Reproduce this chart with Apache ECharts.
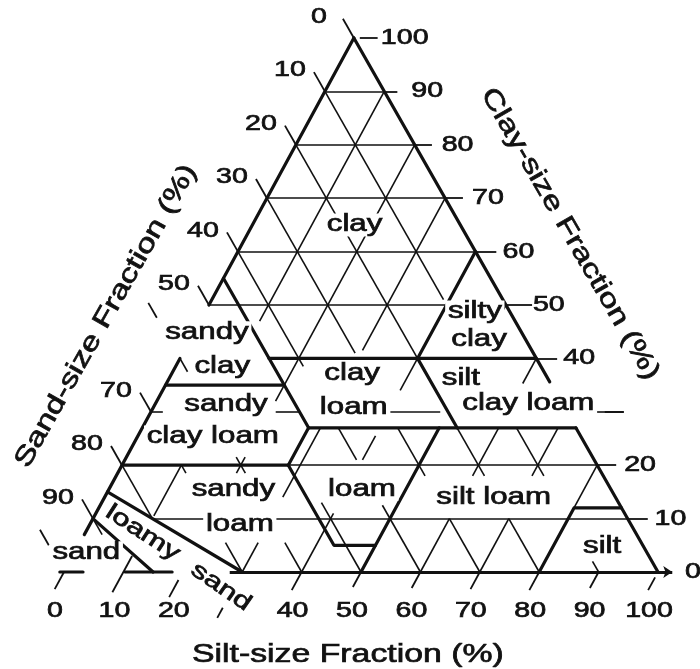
<!DOCTYPE html>
<html>
<head>
<meta charset="utf-8">
<script src="https://cdn.jsdelivr.net/npm/echarts@6/dist/echarts.min.js"></script>
<style>
  html, body { margin: 0; padding: 0; background: #fff; }
  #chart { width: 700px; height: 669px; }
</style>
</head>
<body>
<div id="chart"></div>
<script>
// ---------- axis ticks and labels (percent) ----------
const sandAxisTicks  = [0, 10, 20, 30, 40, 50, 60, 70, 80, 90, 100];
const sandAxisLabels = ['0', '10', '20', '30', '40', '50', '', '70', '80', '90', ''];
const clayAxisTicks  = [100, 90, 80, 70, 60, 50, 40, 30, 20, 10, 0];
const clayAxisLabels = ['100', '90', '80', '70', '60', '50', '40', '', '20', '10', '0'];
const siltAxisTicks  = [0, 10, 20, 30, 40, 50, 60, 70, 80, 90, 100];
const siltAxisLabels = ['0', '10', '20', '', '40', '50', '60', '70', '80', '90', '100'];

// ---------- texture class boundaries, as [silt %, clay %] vertices ----------
const classBoundaries = [
  [[0, 100], [0, 50]],                 // sand-axis edge, upper part
  [[0, 40], [0, 7]],                   // sand-axis edge, lower part
  [[0, 100], [64.4, 35.6]],            // clay-axis edge, upper part
  [[73, 27], [100, 0]],                // clay-axis edge, lower part
  [[-0.7, 0], [3.2, 0]],               // silt-axis edge pieces
  [[10.3, 0], [18.2, 0]],
  [[0, 55], [28, 27]],                 // sand 45 %
  [[15, 40], [60, 40]],                // clay 40 %
  [[40, 40], [40, 60]],                // silt 40 %
  [[40, 40], [53, 27]],                // sand 20 %
  [[0, 35], [20, 35]],                 // clay 35 %
  [[28, 27], [73, 27]],                // clay 27 %
  [[28, 27], [28, 20]],                // silt 28 %
  [[0, 20], [28, 20]],                 // clay 20 %
  [[28, 20], [43, 5], [50, 5]],        // sand 52 % and clay 5 %
  [[50, 0], [50, 27]],                 // silt 50 %
  [[80, 0], [80, 12], [88, 12]],       // silt 80 % and clay 12 %
  [[0, 10], [15, 0]],                  // sand / loamy sand
  [[0, 15], [30, 0]]                   // loamy sand / sandy loam
];
const siltAxisArrow = [[27.9, 0], [102.4, 0]];

// ---------- 10 % guide lines ----------
// constant clay: [clay, silt from, silt to]
const guideClay = [
  [90, 0, 10], [80, 0, 20], [70, 0, 30], [60, 0, 40], [50, 0, 50],
  [30, 0, 2], [30, 21, 25], [30, 39.4, 48.7], [30, 74.8, 79.6],
  [20, 28, 80], [10, 10, 90]
];
// constant sand: [sand, clay from, clay to]
const guideSand = [
  [10, 90, 51], [10, 27, 18], [10, 2, 0],
  [20, 80, 40], [20, 27, 18], [20, 10, 0],
  [30, 70, 41], [30, 27, 18], [30, 10, 0],
  [40, 60, 38.5], [40, 27, 21], [40, 12.5, 0],
  [50, 13, 0],
  [60, 40, 37.5], [60, 21.5, 18.5], [60, 5.5, 0],
  [70, 20, 18.5], [70, 5.5, 0],
  [80, 20, 10],
  [90, 10, 7]
];
// constant silt: [silt, clay from, clay to]
const guideSilt = [
  [10, 47, 90], [10, 10.5, 20],
  [20, 32, 80], [20, 18.5, 21.5],
  [30, 41.5, 70], [30, 14, 27], [30, 0, 5.5],
  [40, 34, 40], [40, 21, 25.5], [40, 0, 11],
  [50, 48, 50],
  [60, 35.3, 40], [60, 18, 27], [60, 0, 10],
  [70, 18, 27], [70, 0, 10],
  [80, 12, 20]
];

// ---------- class names ----------
const classNames = ['clay', 'silty', 'clay', 'sandy', 'clay', 'clay', 'loam', 'silt', 'clay loam',
  'sandy', 'clay loam', 'sandy', 'loam', 'loam', 'silt loam', 'silt', 'sand', 'loamy', 'sand'];
// anchor of each name as [silt %, clay %]
const classNameAnchors = [[17.2, 65.0], [45.4, 48.7], [48.6, 43.6], [2.2, 44.8], [7.9, 38.4],
  [30.4, 37.1], [33.8, 30.7], [49.1, 36.3], [62.8, 31.5], [12.0, 31.3], [12.7, 25.3],
  [21.0, 15.4], [25.3, 8.8], [42.6, 15.5], [65.5, 14.0], [88.3, 4.7], [2.0, 3.6],
  [9.7, 7.3], [27.8, -2.8]];
const classNameTilt = [0, 0, 0, 0, 0, 0, 0, 0, 0, 0, 0, 0, 0, 0, 0, 0, 0, -33, -35];

const axisTitles = ['Sand-size Fraction (%)', 'Clay-size Fraction (%)', 'Silt-size Fraction (%)'];
const axisTitleAnchors = [[-16.3, 47.9], [54.3, 63.3], [55.4, -15.6]];
const axisTitleTilt = [60.5, -60, 0];

// ---------- tick reach beyond each edge (percent units) ----------
const sandTickReach = [[0, 3.6], [0, 3.6], [0, 3.6], [0, 3.6], [0, 3.6], [0, 3.6], [7.6, 10.4],
  [0, 3.6], [0, 3.6], [0, 3.6], [5, 7.9]];
const clayTickReach = [[1, 4], [0, 2.2], [0, 2.9], [0, 3], [0, 3.5], [0, 4.4], [0, 3.5],
  [6.4, 9.6], [0, 3.2], [0, 3.4], null];
const siltTickReach = [[0, 3.2], [-3, 3.8], [1.5, 4.7], [6.7, 8.6], [0, 3.4], [0, 2.8], [0, 3],
  [0, 3.2], [0, 3.4], [0, 3], [1, 3.4]];

// ---------- geometry ----------
const SHEAR = 0.488;                    // clay axis lean in the plot plane
const toXY = (silt, clay) => [silt + SHEAR * clay, clay];
const sandPt = (sand, clay) => toXY(100 - sand - clay, clay);

// plot frame: x = 0 at 64 px, 5.94 px per unit; clay 0 at 572 px, 5.34 px per unit
const W = 700, H = 669, X0 = 64, XS = 5.94, Y0 = 572, YS = 5.34;
const FONT = '"Liberation Sans", Arial, sans-serif';
const INK = '#111';

const seg = (a, b) => ({ coords: [a, b] });

const guideData = [
  ...guideClay.map(([c, t1, t2]) => seg(toXY(t1, c), toXY(t2, c))),
  ...guideSand.map(([s, c1, c2]) => seg(sandPt(s, c1), sandPt(s, c2))),
  ...guideSilt.map(([t, c1, c2]) => seg(toXY(t, c1), toXY(t, c2)))
];

const tickData = [];
sandAxisTicks.forEach((s, i) => {
  const [r0, r1] = sandTickReach[i];
  tickData.push(seg(sandPt(s, 100 - s + r0), sandPt(s, 100 - s + r1)));
});
clayAxisTicks.forEach((c, i) => {
  const r = clayTickReach[i];
  if (!r) return;
  tickData.push(seg(toXY(100 - c + r[0], c), toXY(100 - c + r[1], c)));
});
siltAxisTicks.forEach((t, i) => {
  const [r0, r1] = siltTickReach[i];
  tickData.push(seg(toXY(t, -r0), toXY(t, -r1)));
});

const boundaryData = classBoundaries.map(pts => ({ coords: pts.map(p => toXY(p[0], p[1])) }));

const chart = echarts.init(document.getElementById('chart'));
chart.setOption({
  animation: false,
  backgroundColor: '#fff',
  grid: { left: 0, right: 0, top: 0, bottom: 0 },
  xAxis: { type: 'value', min: -X0 / XS, max: (W - X0) / XS, show: false },
  yAxis: { type: 'value', min: -(H - Y0) / YS, max: Y0 / YS, show: false },
  series: [
    {
      type: 'lines', coordinateSystem: 'cartesian2d', silent: true, z: 2,
      lineStyle: { color: INK, width: 1.6, opacity: 1, curveness: 0 },
      data: guideData
    },
    {
      type: 'lines', coordinateSystem: 'cartesian2d', silent: true, z: 2,
      lineStyle: { color: INK, width: 1.8, opacity: 1, curveness: 0 },
      data: tickData
    },
    {
      type: 'lines', coordinateSystem: 'cartesian2d', polyline: true, silent: true, z: 3,
      lineStyle: { color: INK, width: 3.2, opacity: 1, cap: 'round', join: 'round' },
      data: boundaryData
    },
    {
      type: 'lines', coordinateSystem: 'cartesian2d', silent: true, z: 3,
      symbol: ['none', 'arrow'], symbolSize: 9,
      lineStyle: { color: INK, width: 3.2, opacity: 1, curveness: 0 },
      data: [seg(toXY(...siltAxisArrow[0]), toXY(...siltAxisArrow[1]))]
    }
  ]
});

// ---------- text ----------
const px = (silt, clay) => chart.convertToPixel({ gridIndex: 0 }, toXY(silt, clay));

function textEl(str, pos, o) {
  return {
    type: 'text', x: pos[0], y: pos[1], z: 100, silent: true,
    rotation: (o.tilt || 0) * Math.PI / 180,
    scaleX: o.scaleX,
    style: {
      text: str, fill: INK, stroke: INK, lineWidth: 0.7,
      fontFamily: FONT, fontSize: o.size,
      align: o.align || 'center', verticalAlign: 'middle',
      backgroundColor: o.bg ? '#fff' : 'transparent', padding: o.bg ? [0, 2] : 0
    }
  };
}

const texts = [];
classNames.forEach((name, i) => {
  const [t, c] = classNameAnchors[i];
  const tilt = classNameTilt[i];
  texts.push(textEl(name, px(t, c), { size: 23, scaleX: 1.36, tilt, bg: tilt === 0 }));
});
sandAxisTicks.forEach((s, i) => {
  if (!sandAxisLabels[i]) return;
  const p = px(0, 100 - s);
  texts.push(textEl(sandAxisLabels[i], [p[0] - 35, p[1] - 21], { size: 22, scaleX: 1.3 }));
});
clayAxisTicks.forEach((c, i) => {
  if (!clayAxisLabels[i]) return;
  const p = px(100 - c, c);
  texts.push(textEl(clayAxisLabels[i], [p[0] + 27, p[1]], { size: 22, scaleX: 1.3, align: 'left' }));
});
siltAxisTicks.forEach((t, i) => {
  if (!siltAxisLabels[i]) return;
  const p = px(t, 0);
  texts.push(textEl(siltAxisLabels[i], [p[0] - 9, p[1] + 39], { size: 22, scaleX: 1.3 }));
});
axisTitles.forEach((title, i) => {
  const [t, c] = axisTitleAnchors[i];
  texts.push(textEl(title, px(t, c), { size: 26, scaleX: 1.3, tilt: axisTitleTilt[i] }));
});

chart.setOption({ graphic: texts });
</script>
</body>
</html>
